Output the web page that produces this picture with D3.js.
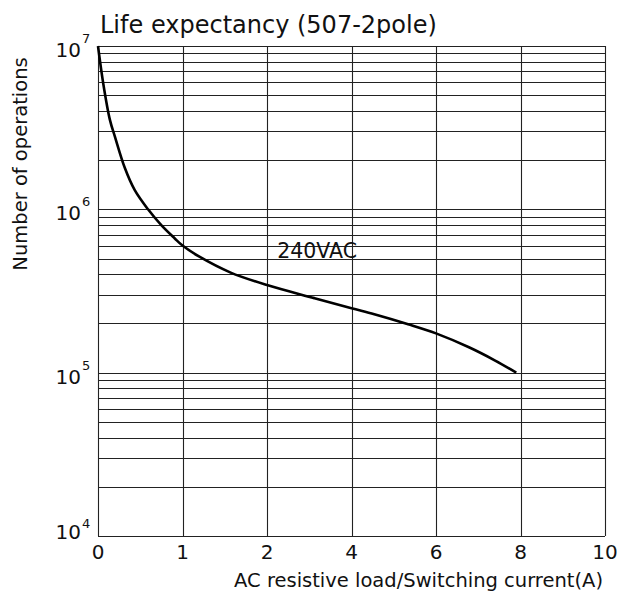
<!DOCTYPE html>
<html>
<head>
<meta charset="utf-8">
<script src="https://cdn.jsdelivr.net/npm/d3@7"></script>
<style>
  body { margin: 0; background: #fff; }
  text { font-family: "DejaVu Sans", sans-serif; fill: #111; }
</style>
</head>
<body>
<div id="chart"></div>
<script>
// x ticks are equally spaced on the sheet even though the values are not
var xTicks = [0, 1, 2, 4, 6, 8, 10];
var yDecades = [1e4, 1e5, 1e6, 1e7];
var yMinor = [2, 3, 4, 5, 6, 7, 8, 9];

// 240VAC curve
var curveX = [0, 0.062, 0.141, 0.2, 0.318, 0.435, 0.592, 0.749, 0.906, 1.0, 1.2, 1.57, 2.0, 3.12, 4.0, 4.54, 5.34, 6.0, 6.78, 7.4, 7.9];
var curveY = [1e7, 5.9e6, 3.53e6, 2.79e6, 1.79e6, 1.31e6, 1.0e6, 8.0e5, 6.65e5, 6.0e5, 5.13e5, 4.1e5, 3.44e5, 2.86e5, 2.48e5, 2.28e5, 1.98e5, 1.74e5, 1.43e5, 1.186e5, 1.0e5];

var curveLabel = '240VAC';
var title = 'Life expectancy (507-2pole)';
var xTitle = 'AC resistive load/Switching current(A)';
var yTitle = 'Number of operations';

var width = 617, height = 593;
var margin = {left: 98, right: 605, top: 46, bottom: 536};

var svg = d3.select('#chart').append('svg')
  .attr('width', width)
  .attr('height', height);

var x = d3.scaleLinear()
  .domain(xTicks)
  .range(xTicks.map(function (d, i) {
    return margin.left + i * (margin.right - margin.left) / (xTicks.length - 1);
  }));

var y = d3.scaleLog()
  .domain([1e4, 1e7])
  .range([margin.bottom, margin.top]);

// horizontal grid: decades and 2..9 in between
var gridVals = [];
for (var i = 0; i < yDecades.length - 1; i++) {
  for (var m of yMinor) gridVals.push(yDecades[i] * m);
}
gridVals = gridVals.concat(yDecades);

svg.append('g').selectAll('line')
  .data(gridVals)
  .enter()
  .append('line')
  .attr('x1', margin.left)
  .attr('x2', margin.right)
  .attr('y1', function (d) { return Math.round(y(d)) + 0.5; })
  .attr('y2', function (d) { return Math.round(y(d)) + 0.5; })
  .style('stroke', '#222')
  .style('stroke-width', 1.1);

svg.append('g').selectAll('line')
  .data(xTicks)
  .enter()
  .append('line')
  .attr('x1', function (d) { return Math.round(x(d)) + 0.5; })
  .attr('x2', function (d) { return Math.round(x(d)) + 0.5; })
  .attr('y1', margin.top)
  .attr('y2', margin.bottom)
  .style('stroke', '#222')
  .style('stroke-width', 1.1);

// curve
var pts = curveX.map(function (d, i) { return [x(d), y(curveY[i])]; });
svg.append('path')
  .datum(pts)
  .attr('d', d3.line().curve(d3.curveCatmullRom.alpha(0.5)))
  .style('fill', 'none')
  .style('stroke', '#000')
  .style('stroke-width', 2.6);

svg.append('text')
  .attr('x', x(2.24))
  .attr('y', y(5.04e5))
  .style('font-size', '20.5px')
  .text(curveLabel);

// x tick labels
svg.append('g').selectAll('text')
  .data(xTicks)
  .enter()
  .append('text')
  .attr('x', function (d) { return x(d); })
  .attr('y', 559)
  .attr('text-anchor', 'middle')
  .style('font-size', '20px')
  .text(function (d) { return d; });

// y tick labels as 10 with superscript
var yl = svg.append('g').selectAll('g')
  .data(yDecades)
  .enter()
  .append('g');

yl.append('text')
  .attr('x', 81)
  .attr('y', function (d) { return y(d) + (d === 1e4 ? 3 : 11); })
  .attr('text-anchor', 'end')
  .style('font-size', '20px')
  .text('10');

yl.append('text')
  .attr('x', 82)
  .attr('y', function (d) { return y(d) + (d === 1e4 ? -8 : -3); })
  .style('font-size', '13px')
  .text(function (d) { return Math.round(Math.log10(d)); });

svg.append('text')
  .attr('x', 100)
  .attr('y', 33)
  .style('font-size', '24px')
  .text(title);

svg.append('text')
  .attr('x', 603)
  .attr('y', 587)
  .attr('text-anchor', 'end')
  .style('font-size', '19.5px')
  .text(xTitle);

svg.append('text')
  .attr('transform', 'translate(27,164) rotate(-90)')
  .attr('text-anchor', 'middle')
  .style('font-size', '19.5px')
  .text(yTitle);
</script>
</body>
</html>
